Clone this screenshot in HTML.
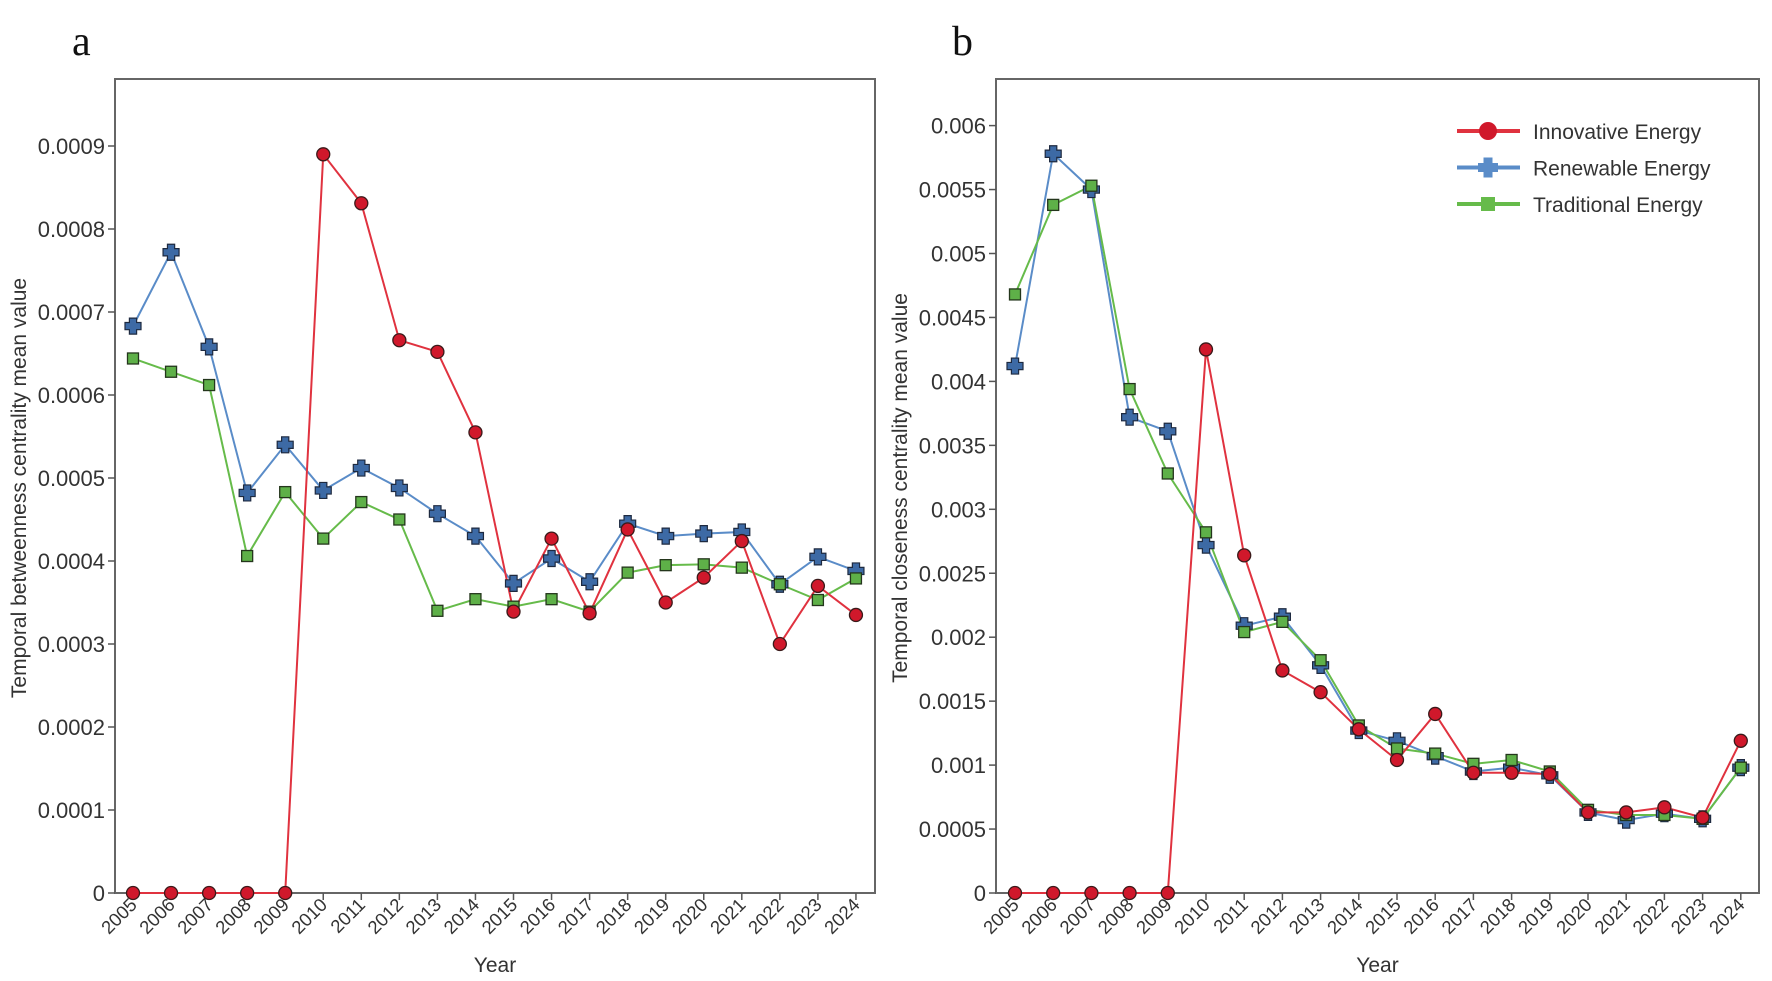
<!DOCTYPE html>
<html><head><meta charset="utf-8"><style>
html,body{margin:0;padding:0;background:#fff;}
svg{display:block;font-family:"Liberation Sans",sans-serif;}
</style></head><body>
<svg id="fig" width="1772" height="981" viewBox="0 0 1772 981"></svg>
<script>
const years = [2005,2006,2007,2008,2009,2010,2011,2012,2013,2014,2015,2016,2017,2018,2019,2020,2021,2022,2023,2024];
const aInnovative = [0,0,0,0,0,0.000890,0.000831,0.000666,0.000652,0.000555,0.000339,0.000427,0.000337,0.000438,0.000350,0.000380,0.000424,0.000300,0.000370,0.000335];
const aRenewable = [0.000683,0.000772,0.000658,0.000482,0.000540,0.000485,0.000512,0.000488,0.000457,0.000430,0.000373,0.000403,0.000375,0.000445,0.000430,0.000433,0.000435,0.000372,0.000405,0.000388];
const aTraditional = [0.000644,0.000628,0.000612,0.000406,0.000483,0.000427,0.000471,0.000450,0.000340,0.000354,0.000345,0.000354,0.000339,0.000386,0.000395,0.000396,0.000392,0.000372,0.000353,0.000379];
const bInnovative = [0,0,0,0,0,0.00425,0.00264,0.00174,0.00157,0.00128,0.00104,0.00140,0.00094,0.00094,0.00093,0.00063,0.00063,0.00067,0.00059,0.00119];
const bRenewable = [0.00412,0.00578,0.00550,0.00372,0.00361,0.00272,0.00209,0.00216,0.00178,0.00127,0.00119,0.00107,0.00095,0.00098,0.00092,0.00063,0.00057,0.00062,0.00058,0.00098];
const bTraditional = [0.00468,0.00538,0.00553,0.00394,0.00328,0.00282,0.00204,0.00212,0.00182,0.00131,0.00113,0.00109,0.00101,0.00104,0.00095,0.00065,0.00061,0.00061,0.00058,0.00098];
const aTicks = [0,0.0001,0.0002,0.0003,0.0004,0.0005,0.0006,0.0007,0.0008,0.0009];
const aTickLabels = ["0","0.0001","0.0002","0.0003","0.0004","0.0005","0.0006","0.0007","0.0008","0.0009"];
const bTicks = [0,0.0005,0.001,0.0015,0.002,0.0025,0.003,0.0035,0.004,0.0045,0.005,0.0055,0.006];
const bTickLabels = ["0","0.0005","0.001","0.0015","0.002","0.0025","0.003","0.0035","0.004","0.0045","0.005","0.0055","0.006"];
const seriesNames = ["Innovative Energy","Renewable Energy","Traditional Energy"];

const NS="http://www.w3.org/2000/svg";
const svg=document.getElementById('fig');
function mk(tag,attrs,parent){const e=document.createElementNS(NS,tag);for(const k in attrs)e.setAttribute(k,attrs[k]);(parent||svg).appendChild(e);return e;}

const colors={line:["#e0323f","#5a8cc8","#66bb4a"],fill:["#d0182b","#3d6aa5","#5eb048"]};

function marker(g,kind,x,y,i){
  let m;
  if(kind===0){m=mk('circle',{cx:x,cy:y,r:6.5,fill:colors.fill[0],stroke:'#3a1a1a','stroke-width':1.3},g);}
  else if(kind===1){const a=3.6,b=8;
    m=mk('path',{d:`M${x-a},${y-b}H${x+a}V${y-a}H${x+b}V${y+a}H${x+a}V${y+b}H${x-a}V${y+a}H${x-b}V${y-a}H${x-a}Z`,fill:colors.fill[1],stroke:'#1e2a40','stroke-width':1.2},g);}
  else {m=mk('rect',{x:x-5.5,y:y-5.5,width:11,height:11,fill:colors.fill[2],stroke:'#24361c','stroke-width':1.3},g);}
  
  
}

function panel(cfg){
  const g=mk('g',{});
  
  
  const xs=i=>cfg.x0+i*cfg.dx;
  const ys=v=>cfg.y0-v*cfg.ky;
  const frame=mk('rect',{x:cfg.left,y:cfg.top,width:cfg.right-cfg.left,height:cfg.y0-cfg.top,fill:'none',stroke:'#666','stroke-width':2},g);
  
  
  cfg.ticks.forEach((t,i)=>{
    const y=ys(t);
    mk('line',{x1:cfg.left-7,x2:cfg.left,y1:y,y2:y,stroke:'#555','stroke-width':1.5},g);
    const tx=mk('text',{x:cfg.left-10,y:y+8,'text-anchor':'end','font-size':22,fill:'#333'},g);
    tx.textContent=cfg.tickLabels[i];
    
    
  });
  years.forEach((yr,i)=>{
    const x=xs(i);
    mk('line',{x1:x,x2:x,y1:cfg.y0,y2:cfg.y0+7,stroke:'#555','stroke-width':1.5},g);
    const tx=mk('text',{x:x+5,y:cfg.y0+13,'text-anchor':'end','font-size':18.5,fill:'#333',transform:`rotate(-45 ${x+5} ${cfg.y0+13})`},g);
    tx.textContent=yr;
    
    
  });
  const xt=mk('text',{x:(cfg.left+cfg.right)/2,y:972,'text-anchor':'middle','font-size':21,fill:'#333'},g);
  xt.textContent='Year';
  
  
  const yt=mk('text',{x:0,y:0,'text-anchor':'middle','font-size':21,fill:'#333',transform:`translate(${cfg.ytx},${cfg.yty}) rotate(-90)`},g);
  yt.textContent=cfg.ytitle;
  
  
  const pl=mk('text',{x:cfg.labelX,y:55,'font-size':42,fill:'#111','font-family':'Liberation Serif, serif'},g);
  pl.textContent=cfg.label;
  
  
  const order=[1,2,0];
  order.forEach(s=>{
    const d=cfg.series[s];
    const p=mk('polyline',{points:d.map((v,i)=>xs(i)+','+ys(v)).join(' '),fill:'none',stroke:colors.line[s],'stroke-width':2},g);
    
    
  });
  order.forEach(s=>{cfg.series[s].forEach((v,i)=>marker(g,s,xs(i),ys(v),i));});
}

panel({name:'panel-a',left:115,top:79,right:875,y0:893,x0:133,dx:38.05,ky:830000,ticks:aTicks,tickLabels:aTickLabels,
  ytitle:'Temporal betweenness centrality mean value',ytx:26,yty:488,label:'a',labelX:72,
  series:[aInnovative,aRenewable,aTraditional]});
panel({name:'panel-b',left:996,top:79,right:1759,y0:893,x0:1015,dx:38.2,ky:127900,ticks:bTicks,tickLabels:bTickLabels,
  ytitle:'Temporal closeness centrality mean value',ytx:907,yty:488,label:'b',labelX:952,
  series:[bInnovative,bRenewable,bTraditional]});

// legend
const lg=mk('g',{});


seriesNames.forEach((n,s)=>{
  const y=131+s*36.5;
  const e=mk('g',{},lg);
  
  
  mk('line',{x1:1457,x2:1520,y1:y,y2:y,stroke:colors.line[s],'stroke-width':4},e);
  if(s===0)mk('circle',{cx:1488,cy:y,r:9,fill:colors.fill[0]},e);
  else if(s===1){const a=4.5,b=10,x=1488;mk('path',{d:`M${x-a},${y-b}H${x+a}V${y-a}H${x+b}V${y+a}H${x+a}V${y+b}H${x-a}V${y+a}H${x-b}V${y-a}H${x-a}Z`,fill:colors.line[1]},e);}
  else mk('rect',{x:1481,y:y-7,width:14,height:14,fill:colors.line[2]},e);
  const t=mk('text',{x:1533,y:y+8,'font-size':21,fill:'#333'},e);
  t.textContent=n;
});
</script>
</body></html>
